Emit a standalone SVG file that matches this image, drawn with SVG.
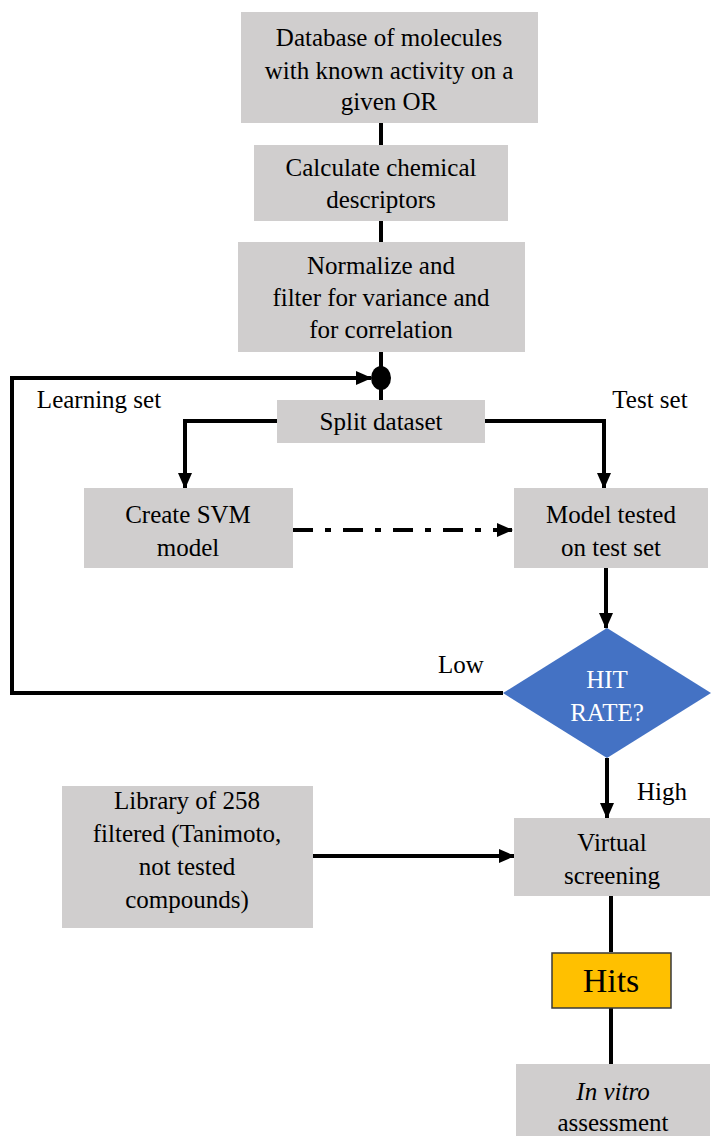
<svg xmlns="http://www.w3.org/2000/svg" width="711" height="1136" viewBox="0 0 711 1136">
<defs>
<style>
.box{fill:#D0CECE;}
.t{font-size:25px;fill:#000;text-anchor:middle;}
.w{fill:#fff;}
.c{fill:none;stroke:#000;stroke-width:4;}
</style>
<marker id="ah" markerUnits="userSpaceOnUse" markerWidth="16" markerHeight="14" refX="15" refY="7" orient="auto">
<path d="M0,0 L16,7 L0,14 Z" fill="#000"/>
</marker>
</defs>
<rect width="711" height="1136" fill="#fff"/>
<g id="connectors">
<line class="c" x1="381" y1="123" x2="381" y2="145"/>
<line class="c" x1="381" y1="221" x2="381" y2="242"/>
<line class="c" x1="381" y1="352" x2="381" y2="400"/>
<path class="c" d="M503,693 H12 V378 H371" marker-end="url(#ah)"/>
<ellipse cx="381" cy="378" rx="10" ry="12" fill="#000"/>
<path class="c" d="M277,421 H185 V488" marker-end="url(#ah)"/>
<path class="c" d="M485,421 H604 V488" marker-end="url(#ah)"/>
<line class="c" x1="293" y1="530" x2="512" y2="530" stroke-dasharray="20,12,6,12" marker-end="url(#ah)"/>
<line class="c" x1="606" y1="568" x2="606" y2="628" marker-end="url(#ah)"/>
<line class="c" x1="607" y1="758" x2="607" y2="818" marker-end="url(#ah)"/>
<line class="c" x1="313" y1="856" x2="514" y2="856" marker-end="url(#ah)"/>
<line class="c" x1="611" y1="896" x2="611" y2="952"/>
<line class="c" x1="611" y1="1008" x2="611" y2="1064"/>
</g>
<g font-family="Liberation Serif, DejaVu Serif, serif">
<g id="n_database">
<rect class="box" x="241" y="12" width="297" height="111"/>
<text class="t" x="389" y="46">Database of molecules</text>
<text class="t" x="389" y="79">with known activity on a</text>
<text class="t" x="389" y="110">given OR</text>
</g>
<g id="n_calc">
<rect class="box" x="254" y="145" width="254" height="76"/>
<text class="t" x="381" y="176">Calculate chemical</text>
<text class="t" x="381" y="208">descriptors</text>
</g>
<g id="n_normalize">
<rect class="box" x="238" y="242" width="287" height="110"/>
<text class="t" x="381" y="274">Normalize and</text>
<text class="t" x="381" y="306">filter for variance and</text>
<text class="t" x="381" y="338">for correlation</text>
</g>
<g id="n_split">
<rect class="box" x="277" y="400" width="208" height="43"/>
<text class="t" x="381" y="430">Split dataset</text>
</g>
<g id="labels">
<text class="t" x="99" y="408">Learning set</text>
<text class="t" x="650" y="408">Test set</text>
<text class="t" x="461" y="673">Low</text>
<text class="t" x="662" y="800">High</text>
</g>
<g id="n_svm">
<rect class="box" x="84" y="488" width="209" height="80"/>
<text class="t" x="188" y="523">Create SVM</text>
<text class="t" x="188" y="556">model</text>
</g>
<g id="n_tested">
<rect class="box" x="514" y="488" width="194" height="80"/>
<text class="t" x="611" y="523">Model tested</text>
<text class="t" x="611" y="556">on test set</text>
</g>
<g id="n_hitrate">
<polygon points="607,628 711,693 607,758 503,693" fill="#4472C4"/>
<text class="t w" x="607" y="688">HIT</text>
<text class="t w" x="607" y="721">RATE?</text>
</g>
<g id="n_library">
<rect class="box" x="62" y="786" width="251" height="142"/>
<text class="t" x="187" y="809">Library of 258</text>
<text class="t" x="187" y="842">filtered (Tanimoto,</text>
<text class="t" x="187" y="875">not tested</text>
<text class="t" x="187" y="908">compounds)</text>
</g>
<g id="n_virtual">
<rect class="box" x="514" y="818" width="196" height="78"/>
<text class="t" x="612" y="851">Virtual</text>
<text class="t" x="612" y="884">screening</text>
</g>
<g id="n_hits">
<rect x="552" y="953" width="119" height="55" fill="#FFC000" stroke="#3a3a3a" stroke-width="1.5"/>
<text class="t" x="611" y="992" style="font-size:34px">Hits</text>
</g>
<g id="n_invitro">
<rect class="box" x="516" y="1064" width="194" height="72"/>
<text class="t" x="613" y="1100" font-style="italic">In vitro</text>
<text class="t" x="613" y="1131">assessment</text>
</g>
</g>
</svg>
